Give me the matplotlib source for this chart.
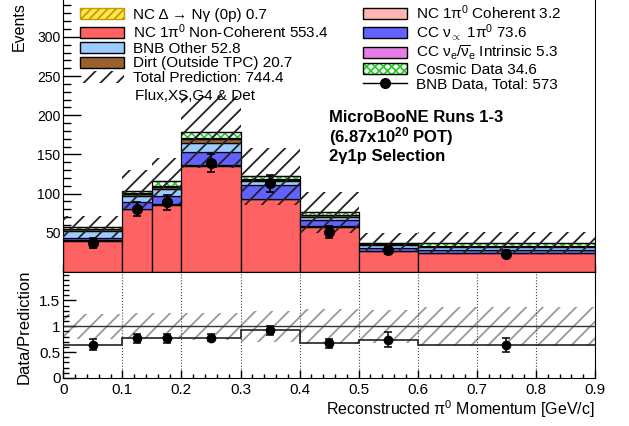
import numpy as np
import matplotlib
matplotlib.use('Agg')
import matplotlib.pyplot as plt
from matplotlib.patches import Patch
from matplotlib.lines import Line2D
from matplotlib.ticker import MultipleLocator

plt.rcParams['font.family'] = ['Liberation Sans', 'DejaVu Sans']
plt.rcParams['mathtext.fontset'] = 'custom'
plt.rcParams['mathtext.rm'] = 'Liberation Sans'
plt.rcParams['mathtext.it'] = 'Liberation Sans'
plt.rcParams['mathtext.bf'] = 'Liberation Sans:bold'
plt.rcParams['hatch.linewidth'] = 1.3

# binning of reconstructed pi0 momentum [GeV/c]
edges = np.array([0.0, 0.1, 0.15, 0.2, 0.3, 0.4, 0.5, 0.6, 0.9])

# stacked MC components (events per bin), bottom to top
nc_pi0_noncoh = [40, 80, 86, 135, 93, 58, 27, 24]
nc_pi0_coh = [0.3, 0.5, 0.5, 1.0, 0.5, 0.2, 0.1, 0.1]
cc_numu_pi0 = [3, 9, 10, 17, 17, 8, 4, 4]
bnb_other = [9, 7, 9, 12, 5, 4, 3, 4]
dirt = [2.5, 3.5, 3.5, 5, 2.5, 2, 1.2, 1.2]
cc_nue = [0.3, 0.5, 1, 1, 0.5, 0.5, 0.3, 0.5]
cosmic = [2.5, 3, 6, 7, 3.5, 3.5, 2, 3]
nc_delta = [0.05, 0.1, 0.1, 0.2, 0.1, 0.1, 0.02, 0.03]

# flux, xs, g4 & detector systematic on the total prediction
sys_err = [14, 26, 29, 46, 36, 26, 12, 14]

# BNB data
data = [37, 80, 89, 139, 113, 51, 28, 23.5]
data_err = [6.1, 8.9, 9.4, 11.8, 10.6, 7.1, 5.3, 4.8]

xticks = [0, 0.1, 0.2, 0.3, 0.4, 0.5, 0.6, 0.7, 0.8, 0.9]
xticklabels = ['0', '0.1', '0.2', '0.3', '0.4', '0.5', '0.6', '0.7', '0.8', '0.9']

left = edges[:-1]
width = np.diff(edges)
centers = left + width / 2

fig = plt.figure(figsize=(6.29, 4.26), dpi=100)
ax1 = fig.add_axes([0.1006, 0.3615, 0.8453, 0.6385])
ax2 = fig.add_axes([0.1006, 0.1127, 0.8453, 0.2488])

# ---- top pad: stacked histogram
layers = [
    (nc_pi0_noncoh, '#ff6262', None, None),
    (nc_pi0_coh, '#ffb5b5', None, None),
    (cc_numu_pi0, '#6262ff', None, None),
    (bnb_other, '#9ccbff', None, None),
    (dirt, '#9a612f', None, None),
    (cc_nue, '#e47ce4', None, None),
    (cosmic, 'white', 'xxxx', '#2ecc2e'),
    (nc_delta, '#ffe84d', '////', '#c49a00'),
]
bottom = np.zeros(len(left))
for vals, face, hatch, hcol in layers:
    vals = np.array(vals, dtype=float)
    if hatch is None:
        ax1.bar(left, vals, width, bottom=bottom, align='edge', color=face,
                edgecolor='black', linewidth=0.9, zorder=2)
    else:
        ax1.bar(left, vals, width, bottom=bottom, align='edge', color=face,
                hatch=hatch, edgecolor=hcol, linewidth=0, zorder=2)
        ax1.bar(left, vals, width, bottom=bottom, align='edge', fill=False,
                edgecolor='black', linewidth=0.9, zorder=2)
    bottom = bottom + vals
total = bottom

# error band
ax1.bar(left, 2 * np.array(sys_err), width, bottom=total - np.array(sys_err),
        align='edge', fill=False, hatch='//', edgecolor='#222222', linewidth=0, zorder=3)

ax1.errorbar(centers, data, yerr=data_err, fmt='o', color='black', ms=7,
             capsize=3, elinewidth=1.2, capthick=1.2, zorder=5)

ax1.set_xlim(0, 0.9)
ax1.set_ylim(0, 347)
ax1.set_xticks(xticks)
ax1.xaxis.set_minor_locator(MultipleLocator(0.02))
ax1.set_yticks([50, 100, 150, 200, 250, 300])
ax1.yaxis.set_minor_locator(MultipleLocator(10))
ax1.tick_params(which='both', direction='in', top=False, right=False, labelbottom=False)
ax1.tick_params(axis='y', which='major', length=13, width=1, labelsize=10, pad=2)
ax1.tick_params(axis='y', which='minor', length=6, width=1)
ax1.tick_params(axis='x', which='major', length=5, width=1)
ax1.tick_params(axis='x', which='minor', length=3, width=1)
ax1.spines['top'].set_visible(False)

# legend
handles = [
    Patch(facecolor='#ffe84d', edgecolor='#c49a00', hatch='////', linewidth=1),
    Patch(facecolor='#ff6262', edgecolor='black'),
    Patch(facecolor='#9ccbff', edgecolor='black'),
    Patch(facecolor='#9a612f', edgecolor='black'),
    Patch(fill=False, hatch='//', edgecolor='#222222', linewidth=0),
    Patch(facecolor='#ffb5b5', edgecolor='black'),
    Patch(facecolor='#6262ff', edgecolor='black'),
    Patch(facecolor='#e47ce4', edgecolor='black'),
    (Patch(facecolor='white', hatch='xxxx', edgecolor='#2ecc2e', linewidth=0),
     Patch(fill=False, edgecolor='black')),
    Line2D([], [], color='black', marker='o', ms=7, lw=1),
]
labels = [
    'NC Δ → Nγ (0p) 0.7',
    'NC 1π$^{0}$ Non-Coherent 553.4',
    'BNB Other 52.8',
    'Dirt (Outside TPC) 20.7',
    'Total Prediction: 744.4',
    'NC 1π$^{0}$ Coherent 3.2',
    'CC ν$_{\\propto}$ 1π$^{0}$ 73.6',
    'CC ν$_{e}$/$\\overline{\\nu}_{e}$ Intrinsic 5.3',
    'Cosmic Data 34.6',
    'BNB Data, Total: 573',
]
ax1.legend(handles, labels, ncol=2, loc='upper left',
           bbox_to_anchor=(80 / 629, 1 - 3 / 426), bbox_transform=fig.transFigure,
           frameon=False, fontsize=11, handlelength=2.9, handleheight=0.75,
           handletextpad=0.6, labelspacing=0.05, columnspacing=2.2,
           borderpad=0, borderaxespad=0)
fig.text(135 / 629, 1 - 96 / 426, 'Flux,XS,G4 & Det', fontsize=11, va='center', ha='left')

fig.text(329 / 629, 1 - 117 / 426, 'MicroBooNE Runs 1-3', fontsize=12, weight='bold', va='center')
fig.text(329 / 629, 1 - 137 / 426, '(6.87x10$^{\\mathbf{20}}$ POT)', fontsize=12, weight='bold', va='center')
fig.text(329 / 629, 1 - 157 / 426, '2γ1p Selection', fontsize=12, weight='bold', va='center')

fig.text(19 / 629, 1 - 2 / 426, 'Events', rotation=90, fontsize=11.5, ha='center', va='top')

# ---- bottom pad: ratio
ratio = np.array(data) / total
ratio_err = np.array(data_err) / total
band = np.array(sys_err) / total

ax2.bar(left, 2 * band, width, bottom=1 - band, align='edge', fill=False,
        hatch='//', edgecolor='#9a9a9a', linewidth=0, zorder=1)
ax2.axhline(1, color='#333333', lw=1, zorder=2)
ax2.stairs(ratio, edges, baseline=None, color='#222222', lw=1.2, zorder=3)
ax2.errorbar(centers, ratio, yerr=ratio_err, fmt='o', color='black', ms=6,
             capsize=3, elinewidth=1.1, capthick=1.1, zorder=5)

ax2.set_xlim(0, 0.9)
ax2.set_ylim(0, 2.05)
ax2.set_xticks(xticks)
ax2.set_xticklabels(xticklabels)
ax2.xaxis.set_minor_locator(MultipleLocator(0.02))
ax2.set_yticks([0, 0.5, 1, 1.5])
ax2.set_yticklabels(['0', '0.5', '1', '1.5'])
ax2.yaxis.set_minor_locator(MultipleLocator(0.1))
ax2.grid(axis='x', which='major', linestyle=':', color='#444444', lw=0.8)
ax2.tick_params(which='both', direction='in', top=False, right=False, labelsize=11)
ax2.tick_params(axis='y', which='major', length=9, width=1, pad=2)
ax2.tick_params(axis='y', which='minor', length=4.5, width=1)
ax2.tick_params(axis='x', which='major', length=6, width=1)
ax2.tick_params(axis='x', which='minor', length=3, width=1)

fig.text(24.5 / 629, 1 - 327 / 426, 'Data/Prediction', rotation=90, fontsize=12, ha='center', va='center')
fig.text(595 / 629, 1 - 409 / 426, 'Reconstructed π$^{0}$ Momentum [GeV/c]', fontsize=11.5,
         ha='right', va='center')

fig.savefig('out.png', dpi=100)
